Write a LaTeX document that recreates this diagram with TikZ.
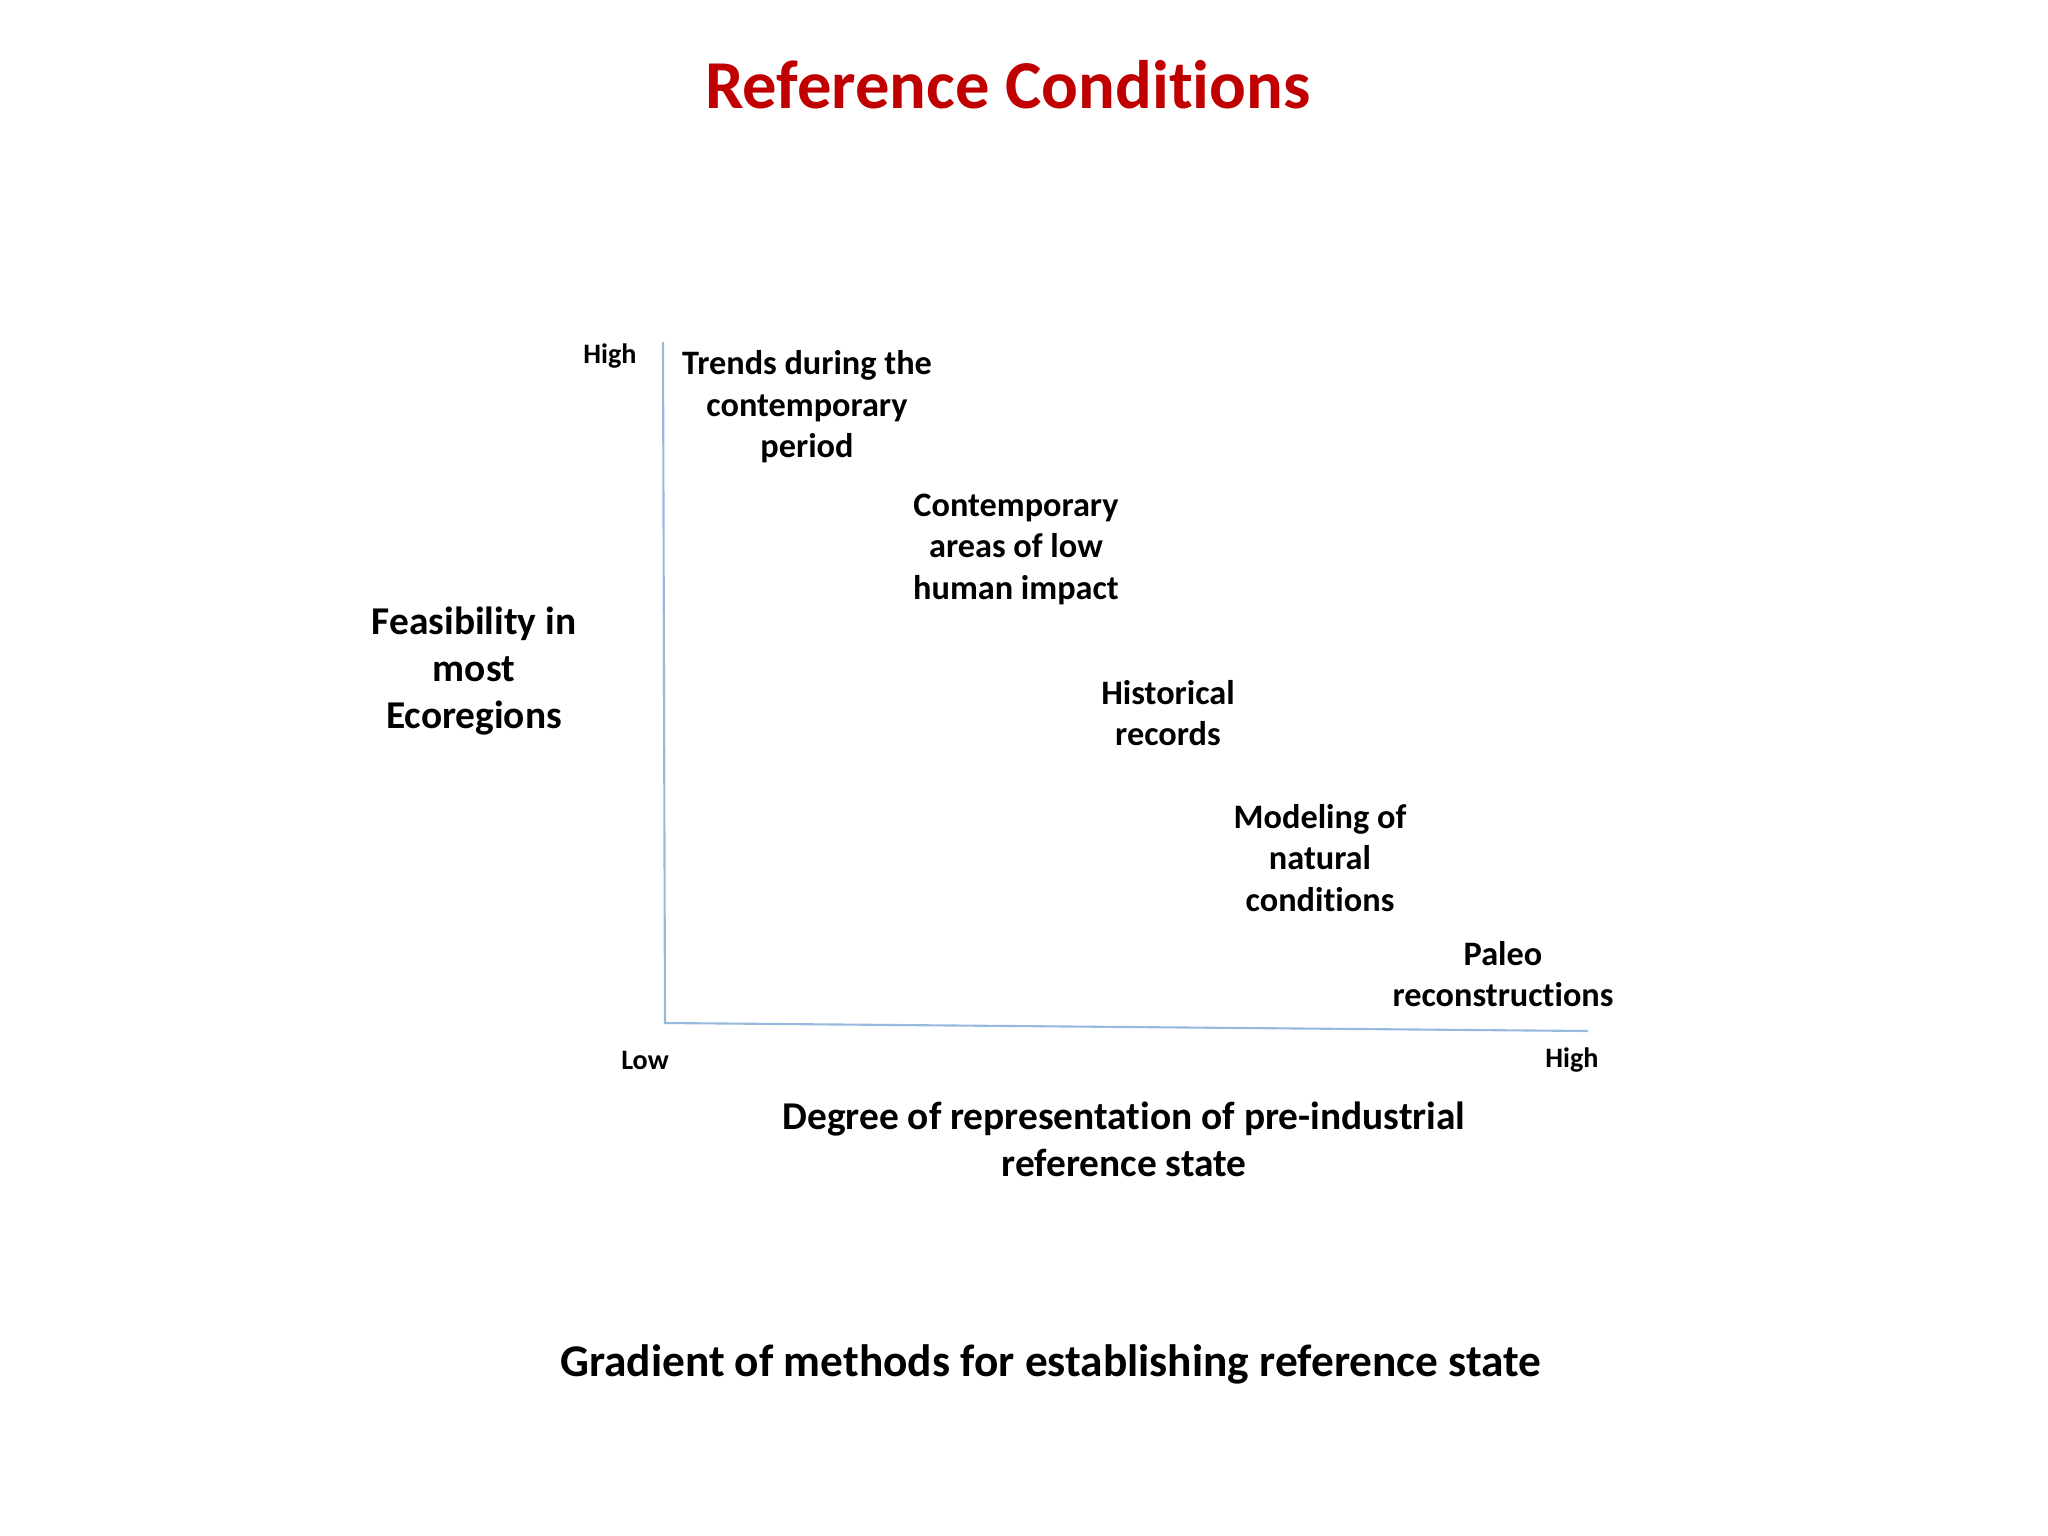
\documentclass[tikz,border=0pt]{standalone}
\usepackage{fontspec}
\setmainfont{Carlito}[Ligatures=NoCommon]
\usepackage{tikz}
\usetikzlibrary{positioning}

\definecolor{titlered}{RGB}{192,0,0}
\definecolor{axisblue}{RGB}{150,185,222}

\begin{document}
\begin{tikzpicture}[
	x = 0.01cm, y = -0.01cm,
	every node/.style = {align=center, font=\bfseries},
	method/.style = {font=\bfseries\fontsize{9.75}{11.8}\selectfont},
	axislabel/.style = {font=\bfseries\fontsize{11.2}{13.3}\selectfont},
	tick/.style = {font=\bfseries\fontsize{8}{9.6}\selectfont},
	axis/.style = {draw=axisblue, line width=0.6pt}
	]
	\useasboundingbox (0,0) rectangle (2048,1536);
	\node[font=\bfseries\fontsize{19.5}{23}\selectfont, text=titlered] (title) at (1008,85) {Reference Conditions};
	% axes
	\coordinate (O) at (665,1023);
	\coordinate (ytop) at (663,342);
	\coordinate (xend) at (1588,1031);
	\draw[axis] (ytop) -- (O) -- (xend);
	\node[tick] (yhigh) at (610,356) {High};
	\node[tick] (xlow) at (645,1060) {Low};
	\node[tick] (xhigh) at (1572,1060) {High};
	\node[axislabel] (ylab) at (474,671) {Feasibility in\\most\\Ecoregions};
	\node[axislabel] (xlab) at (1124,1139) {Degree of representation of pre-industrial\\reference state};
	% methods
	\node[method] (trends) at (807,407) {Trends during the\\contemporary\\period};
	\node[method] (areas) at (1016,549) {Contemporary\\areas of low\\human impact};
	\node[method] (hist) at (1168,713) {Historical\\records};
	\node[method] (model) at (1320,858) {Modeling of\\natural\\conditions};
	\node[method] (paleo) at (1503,974) {Paleo\\reconstructions};
	\node[font=\bfseries\fontsize{12.9}{15}\selectfont] (caption) at (1051,1364) {Gradient of methods for establishing reference state};
\end{tikzpicture}
\end{document}
